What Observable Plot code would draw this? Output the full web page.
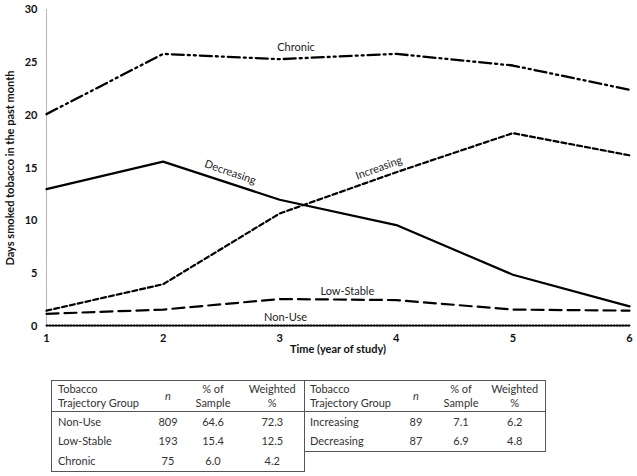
<!DOCTYPE html>
<html>
<head>
<meta charset="utf-8">
<script src="https://cdn.jsdelivr.net/npm/d3@7"></script>
<script src="https://cdn.jsdelivr.net/npm/@observablehq/plot@0.6"></script>
<style>
  body { margin: 0; background: #fff; font-family: Lato, "Open Sans", sans-serif; }
  #wrap { position: relative; width: 637px; height: 476px; }
  #chart { position: absolute; left: 0; top: 0; }
  .tbl { position: absolute; top: 380px; border-collapse: collapse; table-layout: fixed;
         font-family: Lato, sans-serif; font-size: 11px; color: #333; }
  .tbl td { padding: 0; height: 19.5px; line-height: 12px; }
  .tbl tr.hd td { height: 30px; line-height: 14px; border-bottom: 1.5px solid #555; }
  .tbl td.lab { text-align: left; padding-left: 6px; }
  .tbl td.num { text-align: center; }
</style>
</head>
<body>
<div id="wrap">
  <div id="chart"></div>
</div>
<script>
// ---- data ----
const years = [1, 2, 3, 4, 5, 6];
const chronic    = [20.1, 25.8, 25.3, 25.8, 24.7, 22.4];
const decreasing = [13.0, 15.6, 12.0, 9.6, 4.9, 1.9];
const increasing = [1.5, 4.0, 10.7, 14.6, 18.3, 16.2];
const lowStable  = [1.2, 1.6, 2.6, 2.5, 1.6, 1.5];
const nonUse     = [0.1, 0.1, 0.1, 0.1, 0.1, 0.1];
const yTicks = [0, 5, 10, 15, 20, 25, 30];

const labelNames = ["Chronic", "Decreasing", "Increasing", "Low-Stable", "Non-Use"];
const labelX     = [3.14, 2.575, 3.85, 3.58, 3.05];
const labelY     = [26.4, 14.6, 15.0, 3.3, 0.85];
const labelRot   = [0, 19, -20, 0, 0];

// table data
const tblGroupsL = ["Non-Use", "Low-Stable", "Chronic"];
const tblNL      = ["809", "193", "75"];
const tblPctL    = ["64.6", "15.4", "6.0"];
const tblWL      = ["72.3", "12.5", "4.2"];
const tblGroupsR = ["Increasing", "Decreasing"];
const tblNR      = ["89", "87"];
const tblPctR    = ["7.1", "6.9"];
const tblWR      = ["6.2", "4.8"];

const series = (vals) => years.map((x, i) => ({x, y: vals[i]}));
const labels = labelNames.map((t, i) => ({t, x: labelX[i], y: labelY[i], r: labelRot[i]}));

const W = 637, H = 365;
const common = {x: "x", y: "y", stroke: "#000", strokeWidth: 2.2, strokeLinejoin: "round"};

const plot = Plot.plot({
  width: W, height: H,
  marginLeft: 46, marginRight: 8, marginTop: 9, marginBottom: 39,
  style: {fontFamily: "Lato, sans-serif", fontSize: "11px", color: "#111", background: "#fff"},
  x: {domain: [1, 6]},
  y: {domain: [0, 30]},
  marks: [
    Plot.ruleX([1], {stroke: "#b5b5b5", strokeWidth: 1}),
    Plot.ruleY([0], {stroke: "#c8c8c8", strokeWidth: 1}),
    Plot.axisY({ticks: yTicks, tickSize: 0, tickPadding: 9, label: null, fontWeight: "bold", fontSize: 11}),
    Plot.axisX({ticks: years, tickFormat: d3.format("d"), tickSize: 0, tickPadding: 8, label: null, fontWeight: "bold", fontSize: 11}),
    Plot.line(series(chronic), {...common, strokeWidth: 2.3, strokeDasharray: "12,4,2,4,2,4"}),
    Plot.line(series(decreasing), {...common}),
    Plot.line(series(increasing), {...common, strokeDasharray: "5,3"}),
    Plot.line(series(lowStable), {...common, strokeDasharray: "12,6"}),
    Plot.line(series(nonUse), {...common, strokeWidth: 2, strokeLinejoin: "miter", strokeDasharray: "1.2,1.8"}),
    Plot.text(labels, {x: "x", y: "y", text: "t", rotate: "r", fill: "#222", fontSize: 11}),
    Plot.text(["Time (year of study)"], {frameAnchor: "bottom", dy: 26, fontWeight: "bold", fontSize: 11, fill: "#111"}),
    Plot.text(["Days smoked tobacco in the past month"], {frameAnchor: "left", textAnchor: "middle", dx: -36, rotate: -90, fontWeight: "bold", fontSize: 11, fill: "#111"})
  ]
});
document.getElementById("chart").appendChild(plot);

function buildTable(groups, ns, pcts, ws, left, widths, borderLeft) {
  const t = document.createElement("table");
  t.className = "tbl";
  t.style.left = left + "px";
  const total = widths.reduce((a, b) => a + b, 0);
  t.style.width = total + "px";
  t.style.border = "1.5px solid #555";
  if (!borderLeft) t.style.borderLeft = "none";
  const cg = document.createElement("colgroup");
  widths.forEach(w => { const c = document.createElement("col"); c.style.width = w + "px"; cg.appendChild(c); });
  t.appendChild(cg);
  const hd = document.createElement("tr");
  hd.className = "hd";
  hd.innerHTML = '<td class="lab">Tobacco<br>Trajectory Group</td><td class="num"><i>n</i></td><td class="num">% of<br>Sample</td><td class="num">Weighted<br>%</td>';
  t.appendChild(hd);
  groups.forEach((g, i) => {
    const tr = document.createElement("tr");
    tr.innerHTML = `<td class="lab">${g}</td><td class="num">${ns[i]}</td><td class="num">${pcts[i]}</td><td class="num">${ws[i]}</td>`;
    t.appendChild(tr);
  });
  document.getElementById("wrap").appendChild(t);
}
buildTable(tblGroupsL, tblNL, tblPctL, tblWL, 51, [99, 35, 55, 64], true);
buildTable(tblGroupsR, tblNR, tblPctR, tblWR, 304, [91, 42, 48, 60], false);
</script>
</body>
</html>
